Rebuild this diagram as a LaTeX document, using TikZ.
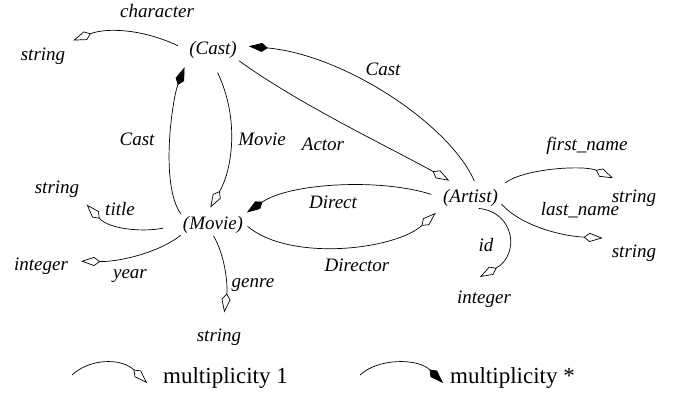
\documentclass[tikz,border=0pt]{standalone}
\usepackage{fontspec}
\setmainfont{Liberation Serif}
\usetikzlibrary{arrows.meta}

\begin{document}
\begin{tikzpicture}[
    x=1pt, y=-1pt,
    line join=round,
    % 实体与角色标签
    lbl/.style={font=\fontsize{19}{22}\selectfont\itshape, inner sep=2pt, anchor=base},
    attr/.style={lbl, inner sep=6pt},
    key/.style={font=\fontsize{23}{26}\selectfont, inner sep=0pt, anchor=base west},
    % 多重性：空心 = 1，实心 = *
    link/.style={line width=0.7pt},
    one/.style={link, -{Kite[open, length=19pt, width=9pt, inset=6pt, line width=0.7pt]}},
    many/.style={link, -{Kite[length=19pt, width=9pt, inset=6pt]}},
]
\useasboundingbox (0,0) rectangle (679,396);

% ---- 实体 ----
\node[lbl] (cast)   at (213,54.5)  {(Cast)};
\node[lbl] (movie)  at (213,229)   {(Movie)};
\node[lbl] (artist) at (470.5,202) {(Artist)};

% ---- 属性类型 ----
\node[attr] (castchar)  at (43,60)   {string};
\node[attr] (title)     at (57,193)  {string};
\node[attr] (year)      at (41,270)  {integer};
\node[attr] (genre)     at (219,341) {string};
\node[attr] (firstname) at (634,202) {string};
\node[attr] (lastname)  at (634,257) {string};
\node[attr] (id)        at (484,303) {integer};

% ---- 角色名 ----
\node[lbl] (r-char)     at (157,18)  {character};
\node[lbl] (r-cast1)    at (137,145) {Cast};
\node[lbl] (r-movie)    at (262,145) {Movie};
\node[lbl] (r-actor)    at (323,150) {Actor};
\node[lbl] (r-cast2)    at (383,75)  {Cast};
\node[lbl] (r-direct)   at (333,208) {Direct};
\node[lbl] (r-director) at (357,271) {Director};
\node[lbl] (r-first)    at (587,150) {first\_name};
\node[lbl] (r-last)     at (580,215) {last\_name};
\node[lbl] (r-id)       at (486,251) {id};
\node[lbl] (r-title)    at (120,215) {title};
\node[lbl] (r-year)     at (130,278) {year};
\node[lbl] (r-genre)    at (253,287) {genre};

% ---- 关系 ----
\draw[one, shorten <=10, shorten >=2] (cast.west) .. controls (140,28) and (105,28) .. (castchar.north east);
\draw[many, shorten >=7] (movie.north west) .. controls (160,185) and (172,100) .. (cast.south west);
\draw[one, shorten <=13, shorten >=7] (cast.-95) .. controls (240,120) and (232,170) .. (movie.120);
\draw[one, shorten >=12] (cast.south east) .. controls (300,105) and (395,150) .. (artist.135);
\draw[many, shorten <=6, shorten >=10] (artist.60) .. controls (450,125) and (345,55) .. (cast.10);
\draw[many, shorten <=10, shorten >=2] (artist.west) .. controls (380,178) and (290,183) .. (movie.north east);
\draw[one, shorten <=3, shorten >=7] (movie.east) .. controls (290,262) and (395,250) .. (artist.south west);

% ---- 属性 ----
\draw[one, shorten <=6, shorten >=12] (artist.north east) .. controls (525,168) and (585,165) .. (firstname.125);
\draw[one, shorten <=2, shorten >=3] (artist.-10) .. controls (520,225) and (560,236) .. (lastname.north west);
\draw[one, shorten <=2, shorten >=15] (artist.-60) .. controls (515,212) and (520,255) .. (id.140);
\draw[one, shorten <=18, shorten >=2] (movie.west) .. controls (145,232) and (110,230) .. (title.south east);
\draw[one, shorten >=7] (movie.south west) .. controls (160,252) and (120,262) .. (year.8);
\draw[one, shorten <=1, shorten >=10] (movie.south) .. controls (225,255) and (228,285) .. (genre.75);

% ---- 图例 ----
\node[key] (key-one)  at (163,383) {multiplicity 1};
\node[key] (key-many) at (450,383) {multiplicity *};
\coordinate (k1s) at (72,375);  \coordinate (k1e) at (147,383);
\coordinate (k2s) at (360,375); \coordinate (k2e) at (443,383);
\draw[one]  (k1s) .. controls (90,358) and (122,358) .. (k1e);
\draw[many] (k2s) .. controls (378,358) and (418,358) .. (k2e);

\end{tikzpicture}
\end{document}
